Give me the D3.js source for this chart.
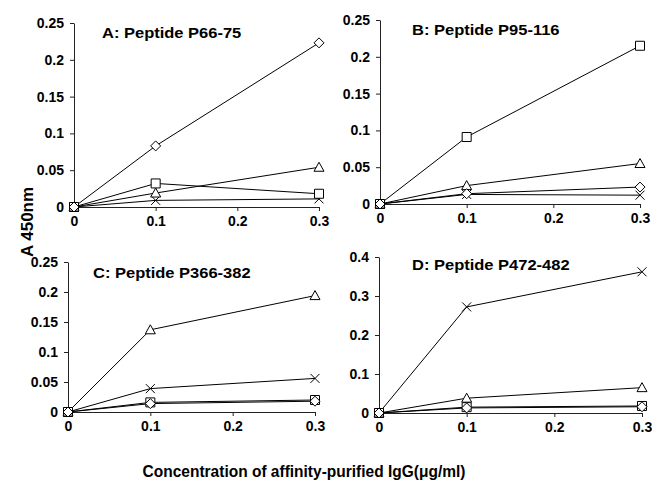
<!DOCTYPE html>
<html>
<head>
<meta charset="utf-8">
<script src="https://cdn.jsdelivr.net/npm/d3@7"></script>
<style>
  body { margin: 0; background: #fff; }
  svg text { font-family: Arial, "Liberation Sans", sans-serif; font-weight: bold; fill: #000; }
</style>
</head>
<body>
<div id="chart"></div>
<script>
// data, one value per dose (0, 0.1, 0.3 ug/ml); entries are panels A, B, C, D
var doses = [0, 0.1, 0.3];
var xTicks = [0, 0.1, 0.2, 0.3];
var titles = ["A: Peptide P66-75", "B: Peptide P95-116", "C: Peptide P366-382", "D: Peptide P472-482"];
var yMax = [0.25, 0.25, 0.25, 0.4];
var yTicksSmall = [0, 0.05, 0.1, 0.15, 0.2, 0.25];
var yTicksLarge = [0, 0.1, 0.2, 0.3, 0.4];

var diamond  = [[0, 0.083, 0.223], [0, 0.014, 0.023], [0, 0.014, 0.018], [0, 0.013, 0.016]];
var square   = [[0, 0.032, 0.018], [0, 0.091, 0.215], [0, 0.016, 0.020], [0, 0.015, 0.018]];
var triangle = [[0, 0.019, 0.054], [0, 0.025, 0.055], [0, 0.137, 0.194], [0, 0.038, 0.065]];
var cross    = [[0, 0.009, 0.011], [0, 0.013, 0.012], [0, 0.039, 0.056], [0, 0.272, 0.362]];

var width = 652,
    height = 486;

// panel boxes (plot area in px)
var boxes = [
  {left: 74, right: 319, top: 23, bottom: 207},
  {left: 380, right: 640, top: 20, bottom: 204},
  {left: 68, right: 315, top: 262, bottom: 412},
  {left: 379, right: 642, top: 257, bottom: 413}
];
var titlePos = [[102, 38], [412, 35], [93, 278], [412, 270]];

var svg = d3.select("#chart").append("svg")
  .attr("width", width)
  .attr("height", height);

var fmt = function(d) { return d === 0 ? "0" : String(+d.toFixed(2)); };

function drawMarker(g, kind, x, y) {
  var p;
  if (kind == "cross") {
    g.append("path")
      .attr("d", "M" + (x - 4.5) + "," + (y - 4.5) + "L" + (x + 4.5) + "," + (y + 4.5) +
                 "M" + (x - 4.5) + "," + (y + 4.5) + "L" + (x + 4.5) + "," + (y - 4.5))
      .attr("stroke", "#000").attr("stroke-width", 1).attr("fill", "none");
    return;
  }
  if (kind == "diamond") {
    p = "M" + x + "," + (y - 5) + "L" + (x + 5) + "," + y + "L" + x + "," + (y + 5) + "L" + (x - 5) + "," + y + "Z";
  } else if (kind == "square") {
    p = "M" + (x - 4.5) + "," + (y - 4.5) + "h9v9h-9Z";
  } else {
    p = "M" + x + "," + (y - 5) + "L" + (x + 5) + "," + (y + 4) + "L" + (x - 5) + "," + (y + 4) + "Z";
  }
  g.append("path")
    .attr("d", p)
    .attr("fill", "#fff").attr("stroke", "#000").attr("stroke-width", 1);
}

boxes.forEach(function(b, i) {
  var x = d3.scaleLinear().domain([0, 0.3]).range([b.left, b.right]);
  var y = d3.scaleLinear().domain([0, yMax[i]]).range([b.bottom, b.top]);
  var g = svg.append("g");

  g.append("g")
    .attr("transform", "translate(" + b.left + ",0)")
    .call(d3.axisLeft(y).tickValues(i == 3 ? yTicksLarge : yTicksSmall)
      .tickFormat(fmt).tickSize(4).tickSizeOuter(0).tickPadding(6))
    .call(function(a) {
      a.selectAll("text").attr("font-size", 14).attr("font-family", null);
      a.selectAll("path, line").attr("stroke", "#222");
    });

  g.append("g")
    .attr("transform", "translate(0," + b.bottom + ")")
    .call(d3.axisBottom(x).tickValues(xTicks)
      .tickFormat(fmt).tickSize(4).tickSizeOuter(0).tickPadding(5))
    .call(function(a) {
      a.selectAll("text").attr("font-size", 14).attr("font-family", null);
      a.selectAll("path, line").attr("stroke", "#222");
    });

  g.append("text")
    .attr("transform", "translate(" + titlePos[i][0] + "," + titlePos[i][1] + ") scale(1.1,1)")
    .attr("font-size", 15)
    .text(titles[i]);

  var series = [["cross", cross[i]], ["square", square[i]], ["triangle", triangle[i]], ["diamond", diamond[i]]];
  var line = d3.line()
    .x(function(d, k) { return x(doses[k]); })
    .y(function(d) { return y(d); });

  series.forEach(function(s) {
    g.append("path")
      .datum(s[1])
      .attr("d", line)
      .attr("fill", "none")
      .attr("stroke", "#000")
      .attr("stroke-width", 1);
  });
  series.forEach(function(s) {
    s[1].forEach(function(v, k) {
      drawMarker(g, s[0], x(doses[k]), y(v));
    });
  });
});

svg.append("text")
  .attr("transform", "translate(33,222) rotate(-90)")
  .attr("text-anchor", "middle")
  .attr("font-size", 17)
  .text("A 450nm");

svg.append("text")
  .attr("transform", "translate(304,477) scale(0.94,1)")
  .attr("text-anchor", "middle")
  .attr("font-size", 16.5)
  .text("Concentration of affinity-purified IgG(\u03bcg/ml)");
</script>
</body>
</html>
